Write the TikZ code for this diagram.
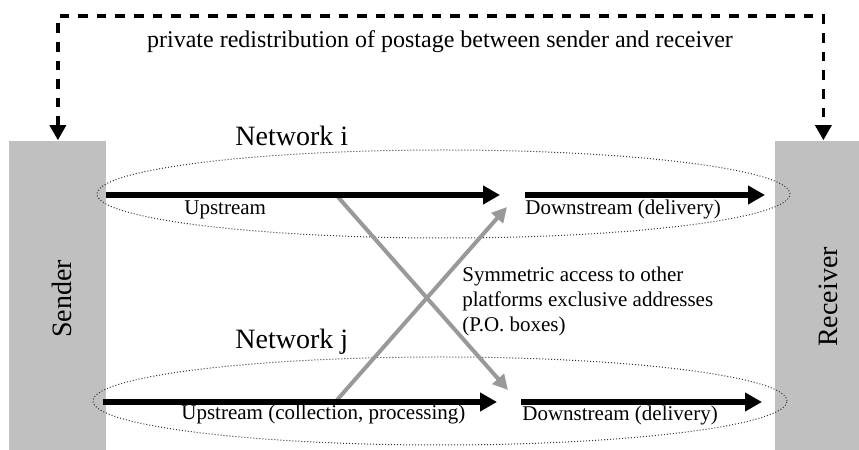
\documentclass[tikz,border=0pt]{standalone}
\usepackage{fontspec}
\setmainfont{Liberation Serif}
\usepackage{xcolor}
\usetikzlibrary{positioning,arrows.meta,shapes.geometric}
\definecolor{cbloque}{HTML}{C0C0C0}
\definecolor{ccruce}{HTML}{999999}
\definecolor{cborde}{HTML}{333333}
\tikzset{
  bloque/.style={rectangle, fill=cbloque, draw=none, inner sep=0pt, anchor=south west},
  nube/.style={ellipse, draw=cborde, line width=0.5pt, densely dotted, inner sep=0pt},
  flujo/.style={-{Triangle[length=8.5pt,width=9pt]}, line width=3pt, draw=black},
  cruce/.style={-{Triangle[length=7.5pt,width=7.5pt]}, line width=2pt, draw=ccruce},
  redist/.style={{Triangle[length=7.5pt,width=8pt]}-{Triangle[length=7.5pt,width=8pt]},
    line width=1.6pt, dash pattern=on 4.8pt off 4.5pt},
  etq/.style={font=\fontsize{10.5}{12.5}\selectfont, inner sep=0pt},
  etqg/.style={font=\fontsize{14}{16}\selectfont, inner sep=0pt},
}

\begin{document}
\begin{tikzpicture}[x=0.5pt, y=0.5pt]
  \useasboundingbox (0,0) rectangle (859,450);
  % sender and receiver blocks
  \node[bloque, minimum width=48.5pt, minimum height=154.5pt] (sender) at (9,0) {};
  \node[bloque, minimum width=42pt, minimum height=154.5pt] (receiver) at (775,0) {};
  \node[etqg, rotate=90] (lsender) at (62,151) {Sender};
  \node[etqg, rotate=90] (lreceiver) at (828.5,153) {Receiver};

  % the two networks
  \node[nube, minimum width=346.5pt, minimum height=44pt] (neti) at (443.5,256) {};
  \node[nube, minimum width=347pt, minimum height=44pt] (netj) at (440,49) {};
  \node[etqg, anchor=base west] (lneti) at (235,304) {Network i};
  \node[etqg, anchor=base west] (lnetj) at (235,101) {Network j};

  % direct redistribution over the top
  \coordinate (cima) at (440,434);
  \draw[redist] (sender.north) |- (cima) -| ([xshift=3pt]receiver.north);
  \node[etq, font=\fontsize{12}{14}\selectfont] (lredist) at (440,408)
    {private redistribution of postage between sender and receiver};

  % arrow ends
  \coordinate (ia) at (106,255);
  \coordinate (ib) at (500,255);
  \coordinate (ic) at (525,255);
  \coordinate (id) at (765,255);
  \coordinate (ja) at (103,48);
  \coordinate (jb) at (497,48);
  \coordinate (jc) at (521,48);
  \coordinate (jd) at (762,48);

  % crossing access
  \coordinate (xi) at (338,253);
  \coordinate (xj) at (337,50);
  \coordinate (ti) at (507,243);
  \coordinate (tj) at (508,60);
  \draw[cruce] (xi) -- (tj);
  \draw[cruce] (xj) -- (ti);

  \draw[flujo] (ia) -- (ib);
  \draw[flujo] (ic) -- (id);
  \draw[flujo] (ja) -- (jb);
  \draw[flujo] (jc) -- (jd);

  \node[etq, anchor=base west] (upi) at (184,235) {Upstream};
  \node[etq, anchor=base west] (downi) at (525,235) {Downstream (delivery)};
  \node[etq, anchor=base west] (upj) at (181,30) {Upstream (collection, processing)};
  \node[etq, anchor=base west] (downj) at (522,29) {Downstream (delivery)};
  \node[etq, anchor=north west, align=left] (lcruce) at (462,183)
    {Symmetric access to other\\platforms exclusive addresses\\(P.O. boxes)};
\end{tikzpicture}
\end{document}
